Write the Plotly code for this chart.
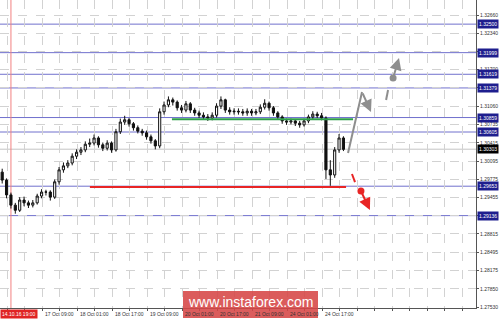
import plotly.graph_objects as go

# ---------------- data ----------------
closes = [1.2976, 1.2950, 1.2932, 1.2923, 1.2941, 1.2936, 1.2932, 1.2936, 1.2948, 1.2955,
          1.2955, 1.2946, 1.2973, 1.2994, 1.3001, 1.3006, 1.3018, 1.3025, 1.3029, 1.3039,
          1.3041, 1.3050, 1.3038, 1.3032, 1.3041, 1.3029, 1.3061, 1.3078, 1.3082, 1.3075,
          1.3068, 1.3062, 1.3059, 1.3052, 1.3045, 1.3036, 1.3096, 1.3108, 1.3117, 1.3113,
          1.3103, 1.3099, 1.3110, 1.3099, 1.3094, 1.3090, 1.3087, 1.3085, 1.3090, 1.3106,
          1.3117, 1.3099, 1.3096, 1.3097, 1.3096, 1.3094, 1.3097, 1.3094, 1.3096, 1.3104,
          1.3111, 1.3103, 1.3094, 1.3087, 1.3080, 1.3078, 1.3080, 1.3076, 1.3073, 1.3080,
          1.3087, 1.3092, 1.3089, 1.3085, 1.2994, 1.2985, 1.3029, 1.3050, 1.3030]
first_open = 1.2990
opens = [first_open] + closes[:-1]
highs = [1.2996, 1.2979, 1.2954, 1.2936, 1.2946, 1.2947, 1.2940, 1.2941, 1.2952, 1.2960,
         1.2959, 1.2958, 1.2977, 1.2999, 1.3007, 1.3011, 1.3023, 1.3030, 1.3034, 1.3044,
         1.3049, 1.3056, 1.3053, 1.3042, 1.3046, 1.3044, 1.3066, 1.3084, 1.3089, 1.3085,
         1.3078, 1.3072, 1.3066, 1.3063, 1.3056, 1.3048, 1.3102, 1.3114, 1.3123, 1.3121,
         1.3116, 1.3108, 1.3115, 1.3113, 1.3103, 1.3098, 1.3095, 1.3092, 1.3095, 1.3111,
         1.3123, 1.3119, 1.3104, 1.3102, 1.3102, 1.3101, 1.3102, 1.3101, 1.3101, 1.3109,
         1.3118, 1.3114, 1.3106, 1.3097, 1.3090, 1.3084, 1.3084, 1.3083, 1.3080, 1.3084,
         1.3091, 1.3097, 1.3096, 1.3094, 1.3088, 1.3011, 1.3034, 1.3057, 1.3053]
lows = [1.2970, 1.2944, 1.2926, 1.2917, 1.2920, 1.2930, 1.2927, 1.2928, 1.2933, 1.2944,
        1.2949, 1.2940, 1.2943, 1.2968, 1.2989, 1.2997, 1.3002, 1.3013, 1.3020, 1.3025,
        1.3034, 1.3037, 1.3033, 1.3027, 1.3028, 1.3024, 1.3026, 1.3057, 1.3073, 1.3070,
        1.3063, 1.3058, 1.3054, 1.3047, 1.3040, 1.3030, 1.3032, 1.3091, 1.3104, 1.3107,
        1.3098, 1.3094, 1.3095, 1.3094, 1.3089, 1.3085, 1.3082, 1.3080, 1.3081, 1.3086,
        1.3101, 1.3094, 1.3091, 1.3091, 1.3091, 1.3089, 1.3089, 1.3089, 1.3090, 1.3092,
        1.3100, 1.3098, 1.3089, 1.3082, 1.3075, 1.3073, 1.3074, 1.3071, 1.3068, 1.3070,
        1.3076, 1.3083, 1.3085, 1.3081, 1.2978, 1.2966, 1.2980, 1.3024, 1.3027]
bar_hours = [1 + 2 * i for i in range(len(closes))]   # trading-hour index of each 2h candle

blue_levels = [1.32500, 1.31999, 1.31619, 1.31379, 1.30859, 1.30605, 1.29653, 1.29136]
current_price = 1.30303
green_level, green_span = 1.3083, (78.6, 161.4)
red_level, red_span = 1.2964, (41.1, 158.2)

y_ticks = [1.32660, 1.32340, 1.32020, 1.31700, 1.31380, 1.31060, 1.30735, 1.30415, 1.30095,
           1.29775, 1.29455, 1.29135, 1.28815, 1.28495, 1.28175, 1.27850, 1.27530]
y_tick_text = ["1.32660", "1.32340", "", "1.31700", "", "1.31060", "1.30735", "1.30415", "1.30095",
               "1.29775", "1.29455", "", "1.28815", "1.28495", "1.28175", "1.27850", "1.27530"]

x_label_hours = [19.2, 35.2, 51.2, 67.2, 83.2, 99.2, 115.2, 131.2, 147.2]
x_labels = ["17 Oct 09:00", "18 Oct 01:00", "18 Oct 17:00", "19 Oct 09:00", "20 Oct 01:00",
            "20 Oct 17:00", "21 Oct 09:00", "24 Oct 01:00", "24 Oct 17:00"]
x_grid_hours = [3.2 + 8 * k for k in range(27)]
marker_hour, marker_label = 5.0, "14.10.16 19:00"

# forecast sketch (time index, price)
up_path_h = [159.1, 165.5]
up_path_p = [1.30236, 1.31308]
up_arrow_end = (169.6, 1.30956)
up_dash = ([176.5, 177.4], [1.31167, 1.31343])
up_dot = (179.7, 1.31554)
up_dot_arrow = (182.4, 1.31905)
dn_dash = ([160.9, 162.3], [1.29867, 1.29726])
dn_dot = (165.0, 1.29568)
dn_arrow = (169.1, 1.29234)

X_MAX = 217.6
Y_MIN, Y_MAX = 1.27513, 1.32924

FONT = "Liberation Sans"
fig = go.Figure()

fig.add_trace(go.Candlestick(
    x=bar_hours, open=opens, high=highs, low=lows, close=closes,
    increasing=dict(line=dict(color="#111111", width=1), fillcolor="#FFFFFF"),
    decreasing=dict(line=dict(color="#111111", width=1), fillcolor="#111111"),
    whiskerwidth=0, showlegend=False, hoverinfo="skip"))

shapes = []
# current price line
shapes.append(dict(type="line", xref="paper", x0=0, x1=1, yref="y", y0=current_price, y1=current_price,
                   line=dict(color="#C4C4C4", width=1), layer="below"))
for lv in blue_levels:
    shapes.append(dict(type="line", xref="paper", x0=0, x1=1, yref="y", y0=lv, y1=lv,
                       line=dict(color="rgb(112,112,205)", width=1), layer="below"))
# red vertical marker
shapes.append(dict(type="line", xref="x", x0=marker_hour, x1=marker_hour, yref="paper", y0=0, y1=1,
                   line=dict(color="#F28080", width=1), layer="below"))
shapes.append(dict(type="line", xref="x", x0=green_span[0], x1=green_span[1], yref="y",
                   y0=green_level, y1=green_level, line=dict(color="#2E9E4A", width=2)))
shapes.append(dict(type="line", xref="x", x0=red_span[0], x1=red_span[1], yref="y",
                   y0=red_level, y1=red_level, line=dict(color="#E82525", width=2)))
# watermark box
shapes.append(dict(type="rect", xref="paper", yref="paper", x0=183 / 476, x1=318 / 476,
                   y0=1 - 318 / 308, y1=1 - 291 / 308, fillcolor="rgba(214,70,70,0.88)",
                   line=dict(width=0), layer="above"))

# forecast lines
fig.add_trace(go.Scatter(x=up_path_h, y=up_path_p, mode="lines",
                         line=dict(color="#8E8E8E", width=2), showlegend=False, hoverinfo="skip"))
fig.add_trace(go.Scatter(x=up_dash[0], y=up_dash[1], mode="lines",
                         line=dict(color="#8E8E8E", width=2), showlegend=False, hoverinfo="skip"))
fig.add_trace(go.Scatter(x=dn_dash[0], y=dn_dash[1], mode="lines",
                         line=dict(color="#E82525", width=2), showlegend=False, hoverinfo="skip"))
fig.add_trace(go.Scatter(x=[up_dot[0]], y=[up_dot[1]], mode="markers",
                         marker=dict(color="#8E8E8E", size=7), showlegend=False, hoverinfo="skip"))
fig.add_trace(go.Scatter(x=[dn_dot[0]], y=[dn_dot[1]], mode="markers",
                         marker=dict(color="#E82525", size=7), showlegend=False, hoverinfo="skip"))

ann = []
def arrow(start, end, color):
    ann.append(dict(x=end[0], y=end[1], ax=start[0], ay=start[1], xref="x", yref="y",
                    axref="x", ayref="y", text="", showarrow=True, arrowhead=2,
                    arrowsize=1.2, arrowwidth=2, arrowcolor=color))
arrow((up_path_h[1], up_path_p[1]), up_arrow_end, "#8E8E8E")
arrow(up_dot, up_dot_arrow, "#8E8E8E")
arrow(dn_dot, dn_arrow, "#E82525")

for lv in blue_levels:
    ann.append(dict(xref="paper", x=1, xanchor="left", xshift=1, yref="y", y=lv,
                    text="%.5f" % lv, showarrow=False, bgcolor="#1E1E8E", borderpad=1,
                    font=dict(family=FONT, size=5, color="white")))
ann.append(dict(xref="paper", x=1, xanchor="left", xshift=1, yref="y", y=current_price,
                text="%.5f" % current_price, showarrow=False, bgcolor="#000000", borderpad=1,
                font=dict(family=FONT, size=5, color="white")))
for h, t in zip(x_label_hours, x_labels):
    ann.append(dict(xref="x", x=h, xanchor="left", xshift=1, yref="paper", y=-6 / 308,
                    yanchor="middle", text=t, showarrow=False,
                    font=dict(family=FONT, size=5, color="#333333")))
ann.append(dict(xref="paper", x=0, xanchor="left", yref="paper", y=-6 / 308, yanchor="middle",
                text=marker_label, showarrow=False, bgcolor="#E02424", borderpad=1,
                font=dict(family=FONT, size=5, color="white")))
ann.append(dict(xref="paper", x=250.5 / 476, xanchor="center", yref="paper", y=1 - 302 / 308,
                yanchor="middle", text="www.instaforex.com", showarrow=False,
                font=dict(family=FONT, size=14, color="white")))

fig.update_layout(
    width=500, height=320, margin=dict(l=0, r=24, t=0, b=12),
    paper_bgcolor="white", plot_bgcolor="white",
    shapes=shapes, annotations=ann, showlegend=False,
    xaxis=dict(range=[0, X_MAX], rangeslider=dict(visible=False), tickvals=x_grid_hours,
               showticklabels=False, ticks="outside", ticklen=2, tickcolor="#555555",
               showgrid=True, gridcolor="#D2D2D2", griddash="dash", gridwidth=1,
               showline=True, linecolor="#555555", linewidth=1, zeroline=False, fixedrange=True),
    yaxis=dict(range=[Y_MIN, Y_MAX], side="right", tickvals=y_ticks, ticktext=y_tick_text,
               ticks="outside", ticklen=2, tickcolor="#555555",
               tickfont=dict(family=FONT, size=5, color="#333333"),
               showgrid=True, gridcolor="#D2D2D2", griddash="dash", gridwidth=1,
               showline=True, linecolor="#555555", linewidth=1, zeroline=False, fixedrange=True),
)

fig.write_html("out.html")
